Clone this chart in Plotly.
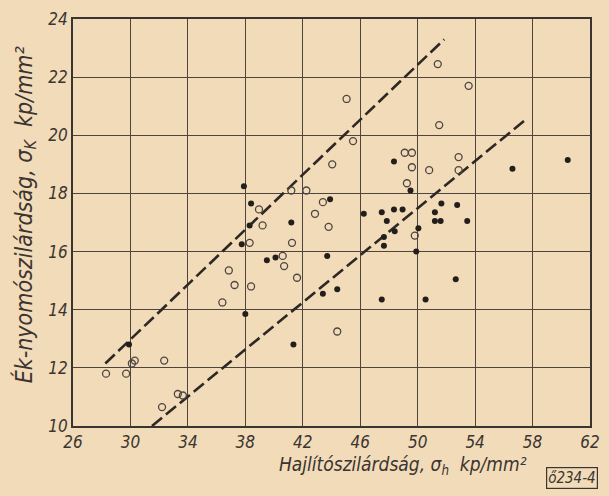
import plotly.graph_objects as go

# Open circles (o)
open_x = [28.3, 29.7, 30.1, 30.3, 32.35, 32.2, 33.3, 33.65, 36.85, 37.25, 38.4, 36.4,
          40.6, 40.7, 38.95, 39.2, 41.2, 42.25, 43.4, 42.85, 43.8, 38.3, 41.25, 41.6,
          44.05, 51.4, 53.55, 45.05, 51.5, 45.5, 49.1, 49.6, 49.6, 50.8, 52.85, 52.85,
          49.25, 49.8, 44.4]
open_y = [11.8, 11.8, 12.15, 12.25, 12.25, 10.65, 11.1, 11.05, 15.35, 14.85, 14.8, 14.25,
          15.85, 15.5, 17.45, 16.9, 18.1, 18.1, 17.7, 17.3, 16.85, 16.3, 16.3, 15.1,
          19.0, 22.45, 21.7, 21.25, 20.35, 19.8, 19.4, 19.4, 18.9, 18.8, 19.25, 18.8,
          18.35, 16.55, 13.25]

# Filled dots (•)
filled_x = [29.9, 38.0, 41.35, 39.5, 40.1, 37.9, 38.4, 38.3, 41.2, 37.75, 43.9, 43.7,
            48.35, 49.5, 46.25, 47.5, 47.85, 48.35, 48.95, 48.4, 47.65, 47.65, 50.05, 49.9,
            51.65, 51.2, 51.2, 51.6, 52.75, 53.45, 56.6, 60.45, 52.65, 44.4, 47.5, 50.55,
            43.4]
filled_y = [12.8, 13.85, 12.8, 15.7, 15.8, 18.25, 17.65, 16.9, 17.0, 16.25, 17.8, 15.85,
            19.1, 18.1, 17.3, 17.35, 17.05, 17.45, 17.45, 16.7, 16.5, 16.2, 16.8, 16.0,
            17.65, 17.35, 17.05, 17.05, 17.6, 17.05, 18.85, 19.15, 15.05, 14.7, 14.35, 14.35,
            14.55]

# Dashed boundary lines
upper_x = [28.25, 51.85]
upper_y = [12.15, 23.3]
lower_x = [31.5, 57.55]
lower_y = [10.0, 20.55]

x_ticks = [26, 30, 34, 38, 42, 46, 50, 54, 58, 62]
y_ticks = [10, 12, 14, 16, 18, 20, 22, 24]

ink = "#3b3430"
bg = "#f1dbb9"
font_fam = "DejaVu Sans Condensed, DejaVu Sans, sans-serif"

fig = go.Figure()
fig.add_trace(go.Scatter(x=upper_x, y=upper_y, mode="lines",
                         line=dict(color="#2e2825", width=2.6, dash="13px,5px"),
                         hoverinfo="skip", cliponaxis=True))
fig.add_trace(go.Scatter(x=lower_x, y=lower_y, mode="lines",
                         line=dict(color="#2e2825", width=2.6, dash="13px,5px"),
                         hoverinfo="skip", cliponaxis=True))
fig.add_trace(go.Scatter(x=open_x, y=open_y, mode="markers",
                         marker=dict(symbol="circle-open", size=7, color="#4d4540",
                                     line=dict(width=1.3, color="#4d4540"))))
fig.add_trace(go.Scatter(x=filled_x, y=filled_y, mode="markers",
                         marker=dict(symbol="circle", size=6, color="#231e1b")))

axis_common = dict(showgrid=True, gridcolor="#4e443c", gridwidth=1,
                   showline=True, linecolor=ink, linewidth=1.6, mirror=True,
                   zeroline=False, ticks="", color=ink, ticklabeloverflow="allow",
                   tickfont=dict(family=font_fam, size=17, color=ink, style="italic"))

fig.update_layout(
    width=609, height=496,
    margin=dict(l=73, r=9, t=14, b=70),
    paper_bgcolor=bg, plot_bgcolor=bg,
    showlegend=False,
    xaxis=dict(range=[26, 62], tickvals=x_ticks, ticktext=[str(v) for v in x_ticks], **axis_common),
    yaxis=dict(range=[10, 24], tickvals=y_ticks, ticktext=[str(v) for v in y_ticks], **axis_common),
)

fig.add_annotation(text="Hajlítószilárdság, σ<sub>h</sub>  kp/mm²", xref="paper", yref="paper",
                   x=0.638, y=-0.098, xanchor="center", yanchor="middle", showarrow=False,
                   font=dict(family=font_fam, size=19, color=ink, style="italic"))
fig.add_annotation(text="Ék-nyomószilárdság, σ<sub>K</sub>  kp/mm²", xref="paper", yref="paper",
                   x=-0.093, y=0.52, xanchor="center", yanchor="middle", showarrow=False,
                   textangle=-90,
                   font=dict(family=font_fam, size=23, color=ink, style="italic"))
fig.add_annotation(text="ő234-4", xref="paper", yref="paper",
                   x=0.965, y=-0.128, xanchor="center", yanchor="middle", showarrow=False,
                   bordercolor=ink, borderwidth=1.2, borderpad=1,
                   font=dict(family=font_fam, size=15, color=ink, style="italic"))

fig.write_html("out.html", config={"displayModeBar": False},
               post_script="document.body.style.margin='0';document.body.style.overflow='hidden';")
